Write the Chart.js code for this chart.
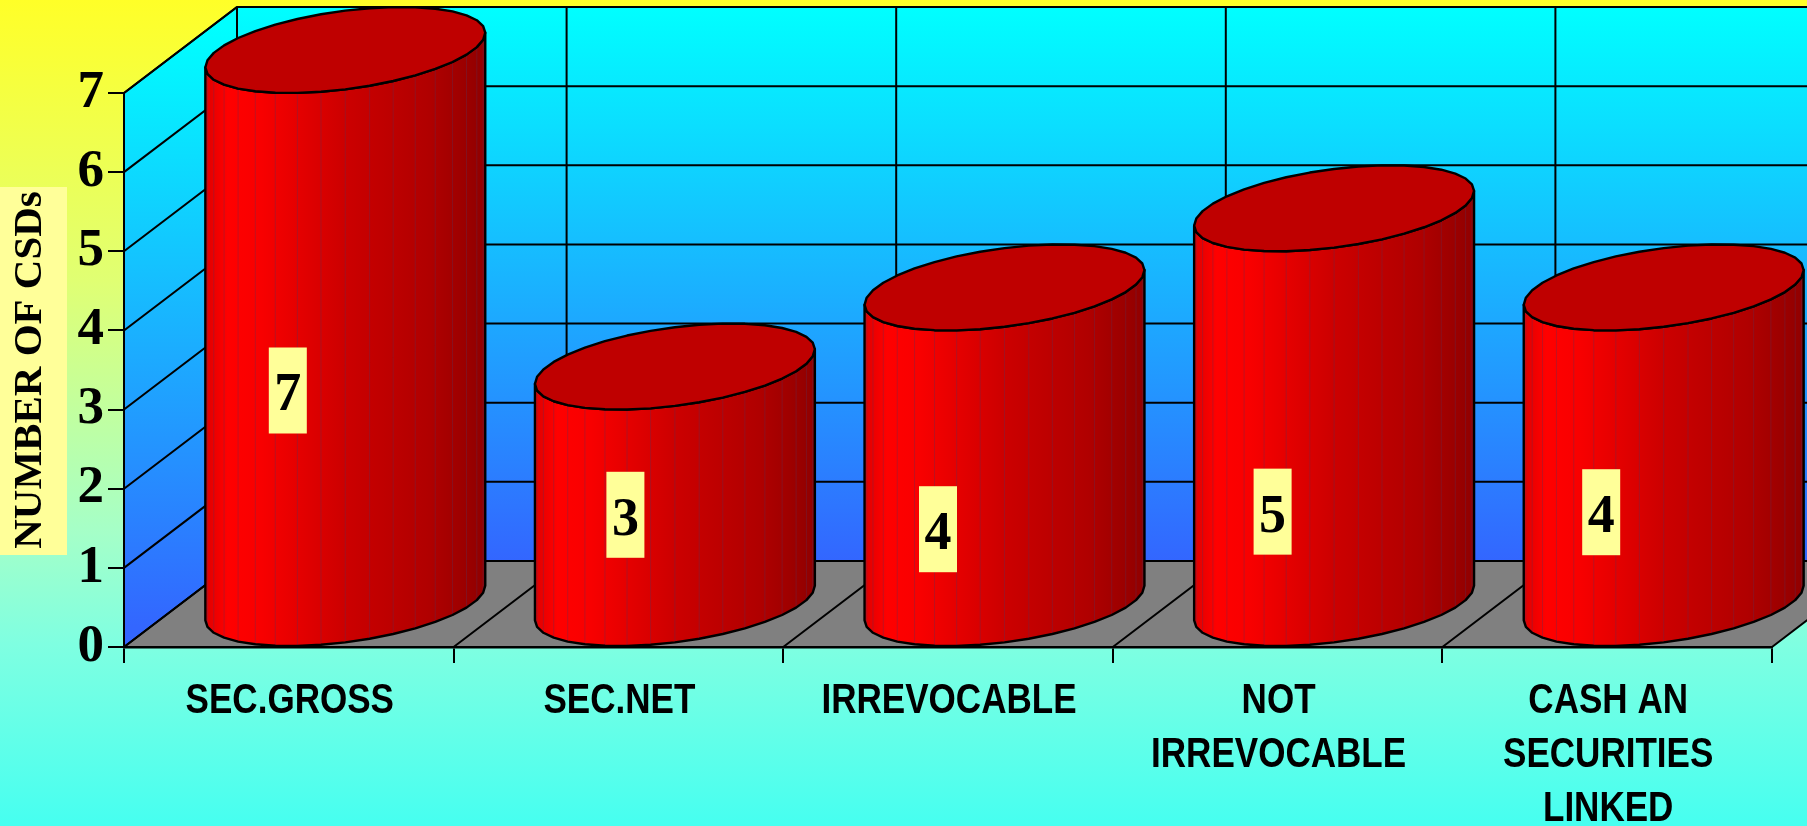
<!DOCTYPE html>
<html>
<head>
<meta charset="utf-8">
<title>Number of CSDs</title>
<script src="https://cdn.jsdelivr.net/npm/chart.js@4"></script>
<style>
html, body { margin: 0; padding: 0; background: #7fffdc; overflow: hidden; }
canvas { display: block; }
</style>
</head>
<body>
<canvas id="myChart" width="1807" height="826"></canvas>
<script>
var categories = ['SEC.GROSS', 'SEC.NET', 'IRREVOCABLE', ['NOT', 'IRREVOCABLE'], ['CASH AN', 'SECURITIES', 'LINKED']];
var csds = [7, 3, 4, 5, 4];
var axisTitle = 'NUMBER OF CSDs';

// the value boxes were placed by hand in the original, so each has its own nudge
var boxNudgeX = [-1, 7, -10, -5, -6];
var boxNudgeY = [21, -13, 41, 63, 24];

var depthX = 113, depthY = 86;
var facets = 36;

function linePath(ctx, pts) {
    ctx.beginPath();
    pts.forEach(function (p, i) {
        if (i === 0) ctx.moveTo(p[0], p[1]); else ctx.lineTo(p[0], p[1]);
    });
}

var walls = {
    id: 'walls',
    beforeDraw: function (chart) {
        var ctx = chart.ctx, x = chart.scales.x, y = chart.scales.y;
        var L = chart.chartArea.left, R = chart.chartArea.right, B = chart.chartArea.bottom, T = chart.chartArea.top;
        var W = chart.width, H = chart.height;

        var bg = ctx.createLinearGradient(0, 0, 0, H);
        bg.addColorStop(0, '#ffff28');
        bg.addColorStop(0.34, '#e0ff73');
        bg.addColorStop(0.645, '#a5ffc8');
        bg.addColorStop(0.78, '#7fffe1');
        bg.addColorStop(1, '#46fff0');
        ctx.fillStyle = bg;
        ctx.fillRect(0, 0, W, H);

        // title plate
        ctx.fillStyle = '#ffff99';
        ctx.fillRect(0, 187, 67, 368);

        var backTop = T - depthY, backBottom = B - depthY;
        var sky = ctx.createLinearGradient(0, backTop, 0, backBottom);
        sky.addColorStop(0, '#00ffff');
        sky.addColorStop(1, '#3366ff');
        ctx.fillStyle = sky;
        ctx.fillRect(L + depthX, backTop, W, backBottom - backTop);

        var side = ctx.createLinearGradient(0, backTop + 20, 0, B - 20);
        side.addColorStop(0, '#00ffff');
        side.addColorStop(1, '#3366ff');
        ctx.fillStyle = side;
        linePath(ctx, [[L, B], [L + depthX, backBottom], [L + depthX, backTop], [L, T]]);
        ctx.closePath();
        ctx.fill();

        ctx.fillStyle = '#808080';
        linePath(ctx, [[L, B], [L + depthX, backBottom], [R + depthX, backBottom], [R, B]]);
        ctx.closePath();
        ctx.fill();

        ctx.strokeStyle = '#000';
        ctx.lineWidth = 2;
        y.ticks.forEach(function (t) {
            var py = y.getPixelForValue(t.value);
            linePath(ctx, [[L, py], [L + depthX, py - depthY], [W, py - depthY]]);
            ctx.stroke();
        });
        var step = (R - L) / categories.length;
        for (var i = 0; i <= categories.length; i++) {
            var px = L + step * i;
            linePath(ctx, [[px, B], [px + depthX, backBottom], [px + depthX, backTop]]);
            ctx.stroke();
        }
        linePath(ctx, [[L, T], [L + depthX, backTop]]);
        ctx.stroke();
    }
};

function ringPoint(cx, cy, a, t) {
    return [cx + a * Math.cos(t) + depthX / 2 * Math.sin(t), cy - depthY / 2 * Math.sin(t)];
}

var cylinders = {
    id: 'cylinders',
    afterDatasetsDraw: function (chart) {
        var ctx = chart.ctx;
        chart.getDatasetMeta(0).data.forEach(function (bar, i) {
            var a = bar.width / 2;
            var cx = bar.x + depthX / 2;
            var topY = bar.y - depthY / 2, baseY = bar.base - depthY / 2;
            var reach = Math.sqrt(a * a + depthX * depthX / 4);
            var t0 = Math.atan2(depthX / 2, a);        // angle of right extreme
            var left = cx - reach, right = cx + reach;

            var front = [], back = [];
            for (var k = 0; k <= facets / 2; k++) {
                var t = t0 + Math.PI + (k / (facets / 2)) * Math.PI;
                front.push(t);
                back.push(t + Math.PI);
            }

            var shade = ctx.createLinearGradient(left, 0, right, 0);
            shade.addColorStop(0, '#e00000');
            shade.addColorStop(0.08, '#ff0000');
            shade.addColorStop(0.2, '#f80000');
            shade.addColorStop(0.5, '#cc0000');
            shade.addColorStop(0.8, '#b00000');
            shade.addColorStop(1, '#900000');

            var body = [];
            front.forEach(function (t) { body.push(ringPoint(cx, baseY, a, t)); });
            front.slice().reverse().forEach(function (t) { body.push(ringPoint(cx, topY, a, t)); });
            linePath(ctx, body);
            ctx.closePath();
            ctx.fillStyle = shade;
            ctx.fill();

            // facet seams
            ctx.strokeStyle = 'rgba(90,50,90,0.35)';
            ctx.lineWidth = 1;
            front.forEach(function (t, k) {
                if (k === 0 || k === front.length - 1) return;
                linePath(ctx, [ringPoint(cx, baseY, a, t), ringPoint(cx, topY, a, t)]);
                ctx.stroke();
            });

            ctx.strokeStyle = '#000';
            ctx.lineWidth = 2.4;
            ctx.lineJoin = 'round';
            linePath(ctx, body);
            ctx.closePath();
            ctx.stroke();

            var cap = [];
            front.concat(back).forEach(function (t) { cap.push(ringPoint(cx, topY, a, t)); });
            linePath(ctx, cap);
            ctx.closePath();
            ctx.fillStyle = '#bf0000';
            ctx.fill();
            ctx.stroke();

            // value box
            var bx = bar.x + boxNudgeX[i];
            var by = (bar.y + bar.base) / 2 + boxNudgeY[i];
            ctx.fillStyle = '#ffff99';
            ctx.fillRect(bx - 19, by - 43, 38, 86);
            ctx.fillStyle = '#000';
            ctx.font = 'bold 54px "Liberation Serif"';
            ctx.textAlign = 'center';
            ctx.textBaseline = 'middle';
            ctx.fillText(String(csds[i]), bx, by + 6);
        });
    }
};

// the original uses a narrow sans; squeeze the category labels with fillText's maxWidth
var narrowLabels = {
    id: 'narrowLabels',
    afterDraw: function (chart) {
        var ctx = chart.ctx, x = chart.scales.x;
        ctx.save();
        ctx.font = 'bold 43px "Liberation Sans"';
        ctx.fillStyle = '#000';
        ctx.textAlign = 'center';
        ctx.textBaseline = 'alphabetic';
        categories.forEach(function (cat, i) {
            var lines = Array.isArray(cat) ? cat : [cat];
            lines.forEach(function (line, n) {
                ctx.fillText(line, x.getPixelForTick(i) + 1, 713 + n * 54, ctx.measureText(line).width * 0.815);
            });
        });
        ctx.restore();
    }
};

var ctx = document.getElementById('myChart').getContext('2d');
var myChart = new Chart(ctx, {
    type: 'bar',
    data: {
        labels: categories,
        datasets: [{
            label: 'Number of CSDs',
            data: csds,
            backgroundColor: 'transparent',
            borderWidth: 0,
            categoryPercentage: 1,
            barPercentage: 0.777
        }]
    },
    options: {
        responsive: false,
        animation: false,
        devicePixelRatio: 1,
        layout: { padding: { top: 93, right: 35 } },
        plugins: {
            legend: { display: false },
            tooltip: { enabled: false }
        },
        scales: {
            x: {
                afterFit: function (scale) { scale.height = 179; },
                grid: { offset: true, drawOnChartArea: false, color: '#000', lineWidth: 2, tickLength: 16 },
                border: { color: '#000', width: 2.5 },
                ticks: { display: false }
            },
            y: {
                min: 0,
                max: 7,
                afterFit: function (scale) { scale.width = 124; },
                grid: { drawOnChartArea: false, color: '#000', lineWidth: 2, tickLength: 16 },
                border: { color: '#000', width: 2 },
                ticks: {
                    stepSize: 1,
                    color: '#000',
                    padding: 4,
                    font: { family: '"Liberation Serif"', weight: 'bold', size: 53 }
                },
                title: {
                    display: true,
                    text: axisTitle,
                    color: '#000',
                    padding: { top: 6, bottom: 0 },
                    font: { family: '"Liberation Serif"', weight: 'bold', size: 41 }
                }
            }
        }
    },
    plugins: [walls, cylinders, narrowLabels]
});
</script>
</body>
</html>
